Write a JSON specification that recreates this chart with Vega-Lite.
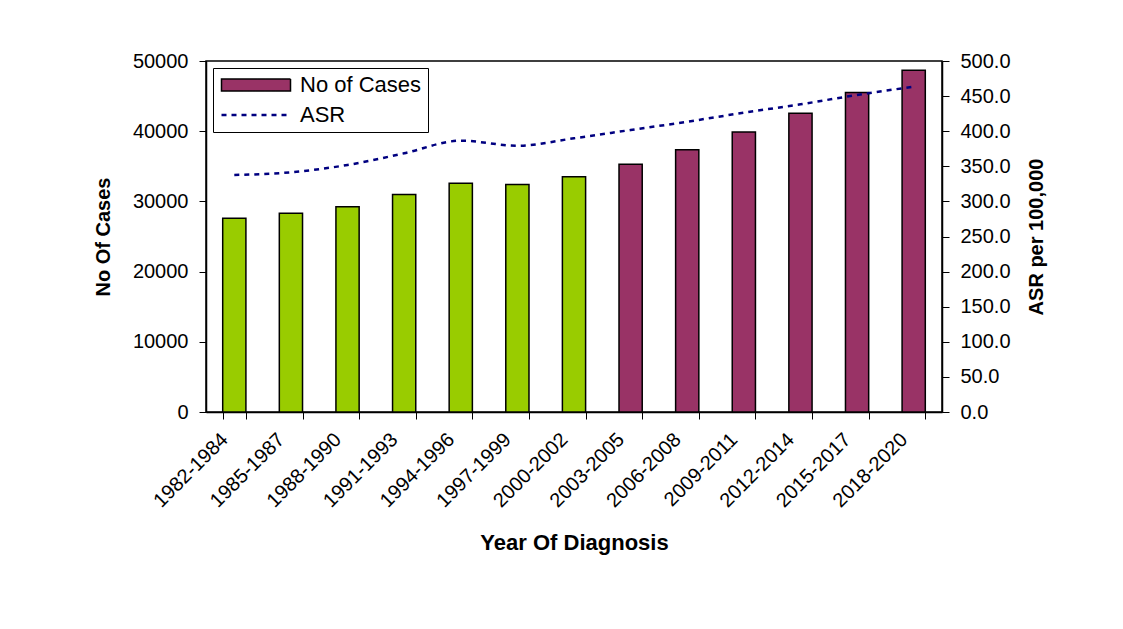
{
  "$schema": "https://vega.github.io/schema/vega-lite/v6.json",
  "width": 736,
  "height": 351,
  "autosize": "none",
  "padding": {"left": 206, "top": 61, "right": 181, "bottom": 217},
  "background": "white",
  "config": {
    "font": "Liberation Sans",
    "view": {"stroke": "black", "strokeWidth": 1.5},
    "axis": {
      "labelFont": "Liberation Sans",
      "titleFont": "Liberation Sans",
      "labelColor": "black",
      "titleColor": "black",
      "domainColor": "black",
      "domainWidth": 1.5,
      "tickColor": "black",
      "tickWidth": 1,
      "tickSize": 7,
      "grid": false,
      "titleFontWeight": "bold"
    }
  },
  "data": {
    "values": [
      {"period": "1982-1984", "cases": 27600, "ASR": 337.6, "phase": "observed"},
      {"period": "1985-1987", "cases": 28300, "ASR": 341.5, "phase": "observed"},
      {"period": "1988-1990", "cases": 29250, "ASR": 351.9, "phase": "observed"},
      {"period": "1991-1993", "cases": 31000, "ASR": 368.5, "phase": "observed"},
      {"period": "1994-1996", "cases": 32600, "ASR": 386.5, "phase": "observed"},
      {"period": "1997-1999", "cases": 32400, "ASR": 379.3, "phase": "observed"},
      {"period": "2000-2002", "cases": 33500, "ASR": 389.9, "phase": "observed"},
      {"period": "2003-2005", "cases": 35300, "ASR": 401.7, "phase": "projected"},
      {"period": "2006-2008", "cases": 37350, "ASR": 413.5, "phase": "projected"},
      {"period": "2009-2011", "cases": 39900, "ASR": 426.4, "phase": "projected"},
      {"period": "2012-2014", "cases": 42550, "ASR": 438.3, "phase": "projected"},
      {"period": "2015-2017", "cases": 45500, "ASR": 451.6, "phase": "projected"},
      {"period": "2018-2020", "cases": 48700, "ASR": 463.4, "phase": "projected"}
    ]
  },
  "encoding": {
    "x": {
      "field": "period",
      "type": "nominal",
      "sort": null,
      "scale": {"paddingInner": 0.59, "paddingOuter": 0.295},
      "axis": {
        "title": "Year Of Diagnosis",
        "titleFontSize": 22,
        "titlePadding": 22,
        "labelFontSize": 20,
        "labelAngle": -45,
        "labelPadding": 10,
        "labelOffset": -17,
        "tickBand": "extent",
        "labelOverlap": false
      }
    }
  },
  "layer": [
    {
      "mark": {"type": "bar", "stroke": "black", "strokeWidth": 1.5},
      "encoding": {
        "y": {
          "field": "cases",
          "type": "quantitative",
          "scale": {"domain": [0, 50000], "nice": false},
          "axis": {
            "title": "No Of Cases",
            "titleFontSize": 20,
            "titlePadding": 19,
            "labelFontSize": 20,
            "labelPadding": 11,
            "format": "d",
            "values": [0, 10000, 20000, 30000, 40000, 50000]
          }
        },
        "fill": {
          "field": "phase",
          "type": "nominal",
          "scale": {"domain": ["observed", "projected"], "range": ["#99CC00", "#993366"]},
          "legend": null
        }
      }
    },
    {
      "transform": [{"fold": ["ASR"], "as": ["series", "asr_value"]}],
      "mark": {"type": "line", "interpolate": "monotone", "strokeWidth": 2.5, "strokeDash": [5, 5]},
      "encoding": {
        "y": {
          "field": "asr_value",
          "type": "quantitative",
          "scale": {"domain": [0, 500], "nice": false},
          "axis": {
            "orient": "right",
            "title": "ASR per 100,000",
            "titleFontSize": 20,
            "titleAngle": 270,
            "titleBaseline": "top",
            "titlePadding": 16,
            "labelFontSize": 20,
            "labelPadding": 11,
            "format": ".1f",
            "values": [0, 50, 100, 150, 200, 250, 300, 350, 400, 450, 500]
          }
        },
        "stroke": {
          "field": "series",
          "type": "nominal",
          "scale": {"domain": ["No of Cases", "ASR"], "range": ["#000000", "#000080"]},
          "legend": {
            "title": null,
            "orient": "top-left",
            "offset": 7,
            "strokeColor": "black",
            "fillColor": "white",
            "padding": 6,
            "labelFont": "Liberation Sans",
            "labelFontSize": 22,
            "labelColor": "black",
            "labelOffset": 33,
            "symbolOffset": 26,
            "symbolSize": 4761,
            "rowPadding": 8,
            "encode": {
              "symbols": {
                "update": {
                  "shape": {"signal": "datum.value === 'ASR' ? 'stroke' : 'M-1,-0.174H1V0.174H-1Z'"},
                  "fill": {"signal": "datum.value === 'ASR' ? 'transparent' : '#993366'"},
                  "stroke": {"signal": "datum.value === 'ASR' ? '#000080' : '#000000'"},
                  "strokeDash": {"signal": "datum.value === 'ASR' ? [5, 5] : [1, 0]"},
                  "strokeWidth": {"signal": "datum.value === 'ASR' ? 2.5 : 1.5"},
                  "opacity": {"value": 1}
                }
              }
            }
          }
        }
      }
    }
  ],
  "resolve": {"scale": {"y": "independent"}}
}
